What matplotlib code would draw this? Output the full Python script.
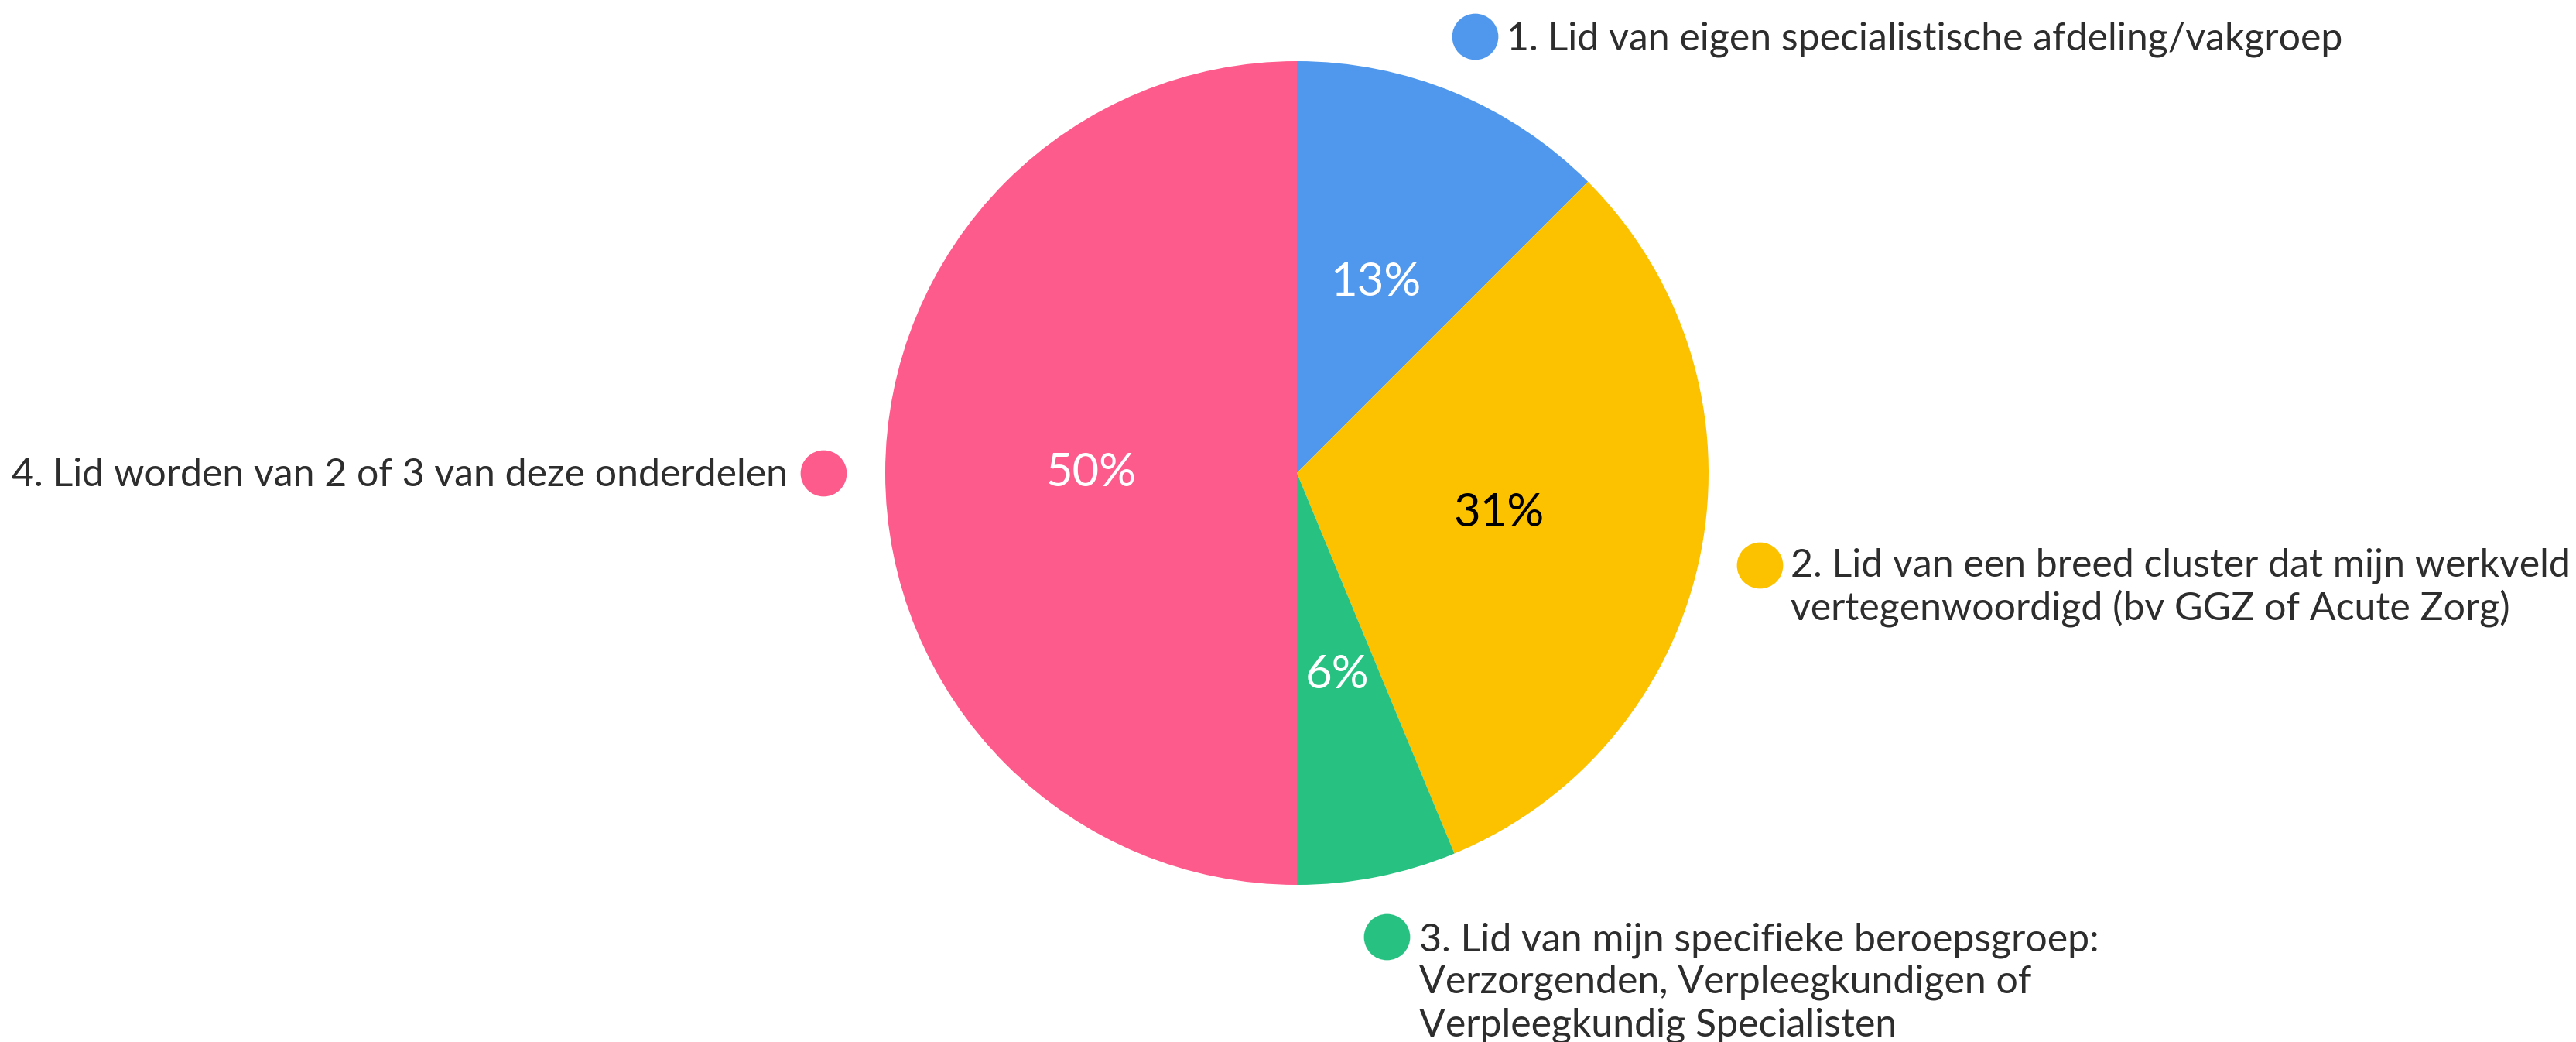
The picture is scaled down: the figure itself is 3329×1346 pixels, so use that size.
import matplotlib
matplotlib.use("Agg")
import matplotlib.pyplot as plt
import numpy as np

plt.rcParams['font.family'] = ['Lato', 'DejaVu Sans']

# data: 16 respondents
categories = [
    "1. Lid van eigen specialistische afdeling/vakgroep",
    "2. Lid van een breed cluster dat mijn werkveld\nvertegenwoordigd (bv GGZ of Acute Zorg)",
    "3. Lid van mijn specifieke beroepsgroep:\nVerzorgenden, Verpleegkundigen of\nVerpleegkundig Specialisten",
    "4. Lid worden van 2 of 3 van deze onderdelen",
]
counts = [2, 5, 1, 8]
pct_labels = ["13%", "31%", "6%", "50%"]
colors = ["#4F98EE", "#FCC200", "#27C281", "#FE5B8D"]
pct_colors = ["white", "black", "white", "white"]

W, H = 3329, 1346
fig = plt.figure(figsize=(W / 100, H / 100), dpi=100)

# pie centre (1676, 611) px from top-left, radius 532 px
cx, cy, r = 1676, 611, 532
ax = fig.add_axes([(cx - r) / W, (H - cy - r) / H, 2 * r / W, 2 * r / H])
wedges, texts = ax.pie(counts, colors=colors, startangle=90, counterclock=False,
                       radius=1, wedgeprops=dict(linewidth=0))
ax.set_xlim(-1, 1)
ax.set_ylim(-1, 1)
ax.set_aspect('equal')
ax.axis('off')

# percentage labels inside slices
for w, lab, c in zip(wedges, pct_labels, pct_colors):
    ang = np.deg2rad((w.theta1 + w.theta2) / 2)
    ax.text(0.5 * np.cos(ang), 0.5 * np.sin(ang), lab, ha='center', va='center',
            fontsize=43, color=c)


def fx(x):
    return x / W


def fy(y):
    return 1 - y / H


# labels with dots: (dot x, dot y, text x, first baseline y, line step, ha)
label_pos = [
    (1906, 47, 1947, 64, 52, 'left'),
    (2274, 730, 2314, 745, 55, 'left'),
    (1792, 1210, 1834, 1228, 55, 'left'),
    (1064, 611, 1018, 628, 52, 'right'),
]
txt_color = "#2d2d2d"
for (dx, dy, tx, ty, step, ha), lab, col in zip(label_pos, categories, colors):
    fig.lines.append(plt.Line2D([fx(dx)], [fy(dy)], transform=fig.transFigure,
                                marker='o', markersize=43, color=col,
                                markeredgewidth=0, linestyle='none'))
    for i, line in enumerate(lab.split("\n")):
        fig.text(fx(tx), fy(ty + step * i), line, ha=ha, va='baseline',
                 fontsize=36, color=txt_color)

fig.savefig("out.png", dpi=100, facecolor="white")
